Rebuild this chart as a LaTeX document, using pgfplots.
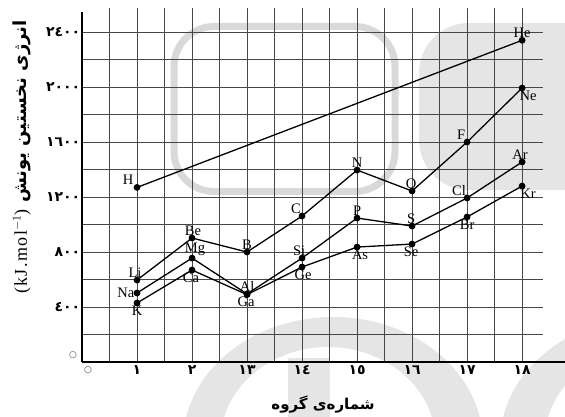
\documentclass[border=0pt]{standalone}
\usepackage{fontspec}
\usepackage{pgfplots}
\usepackage{pgfplotstable}
\pgfplotsset{compat=1.18}
\setmainfont{Liberation Serif}
\newfontfamily\arabicfont[Script=Arabic]{DejaVu Sans}
\newfontfamily\symfont{DejaVu Sans}
\TeXXeTstate=1

\pgfplotstableread{
x y
1 1270
8 2340
}\rowA
\pgfplotstableread{
x y
1 596
2 902
3 800
4 1062
5 1396
6 1244
7 1600
8 1993
}\rowB
\pgfplotstableread{
x y
1 502
2 756
3 495
4 756
5 1047
6 989
7 1193
8 1455
}\rowC
\pgfplotstableread{
x y
1 429
2 669
3 490
4 691
5 836
6 858
7 1055
8 1280
}\rowD

\newcommand\lbl[5]{\node[anchor=#3, xshift=#4pt, inner sep=2.5pt, font=\fontsize{14.5}{14.5}\selectfont] at (axis cs:#1,#2) {#5};}
\pgfplotsset{elem/.style={black, line width=1.3pt, mark=*, mark size=2.7pt, mark options={fill=black}}}

\begin{document}
\begin{tikzpicture}
\useasboundingbox (0,0) rectangle (565pt,416pt);
% watermark
\begin{scope}[x=1pt,y=-1pt,yshift=416pt]
\clip (0,0) rectangle (565,416);
\fill[black!10, rounded corners=50pt] (419,23) rectangle (660,190);
\fill[black!10, even odd rule] (333,443) ellipse [x radius=150pt, y radius=126pt] (328,443) ellipse [x radius=108pt, y radius=96pt];
\fill[black!10] (288,358) rectangle (330,430);
\fill[black!10, even odd rule] (650,443) ellipse [x radius=150pt, y radius=126pt] (650,443) ellipse [x radius=106pt, y radius=96pt];
\draw[black!15, line width=7pt, rounded corners=40pt] (174,26.5) rectangle (395,191.5);
\end{scope}

\begin{axis}[
  at={(82pt,54pt)}, anchor=south west,
  scale only axis, width=461pt, height=354pt,
  xmin=0, xmax=8.38, ymin=0, ymax=2575,
  axis lines=left,
  axis line style={-, line width=1.5pt, black},
  x axis line style={shorten >=-22pt},
  y axis line style={shorten >=4pt},
  xtick={1,...,8},
  xticklabels={١,٢,١٣,١٤,١٥,١٦,١٧,١٨},
  ytick={400,800,...,2400},
  yticklabels={٤٠٠,٨٠٠,١٢٠٠,١٦٠٠,٢٠٠٠,٢٤٠٠},
  minor xtick={0.5,1.5,...,8},
  minor ytick={200,600,...,2200},
  grid=both,
  major grid style={black!72, line width=0.6pt},
  minor grid style={black!72, line width=0.6pt},
  major tick length=0pt, minor tick length=0pt,
  tick style={draw=none},
  xticklabel style={font=\arabicfont\bfseries\fontsize{14}{14}\selectfont, inner sep=3pt},
  yticklabel style={font=\arabicfont\bfseries\fontsize{14}{14}\selectfont, inner sep=1.5pt},
  clip=false,
]
\addplot[elem] table[x=x, y=y] {\rowA};
\addplot[elem] table[x=x, y=y] {\rowB};
\addplot[elem] table[x=x, y=y] {\rowC};
\addplot[elem] table[x=x, y=y] {\rowD};
\lbl{1}{1270}{south}{-9}{H}
\lbl{8}{2340}{south}{0}{He}
\lbl{1}{596}{south}{-2}{Li}
\lbl{2}{902}{south}{1}{Be}
\lbl{3}{800}{south}{0}{B}
\lbl{4}{1062}{south}{-6}{C}
\lbl{5}{1396}{south}{0}{N}
\lbl{6}{1244}{south}{-1}{O}
\lbl{7}{1600}{south}{-6}{F}
\lbl{8}{1993}{north}{6}{Ne}
\lbl{1}{502}{east}{0}{Na}
\lbl{2}{756}{south}{3}{Mg}
\lbl{3}{495}{south}{0}{Al}
\lbl{4}{756}{south}{-3}{Si}
\lbl{5}{1047}{south}{0}{P}
\lbl{6}{989}{south}{-1}{S}
\lbl{7}{1193}{south}{-8}{Cl}
\lbl{8}{1455}{south}{-2}{Ar}
\lbl{1}{429}{north}{0}{K}
\lbl{2}{669}{north}{-1}{Ca}
\lbl{3}{490}{north}{-1}{Ga}
\lbl{4}{691}{north}{1}{Ge}
\lbl{5}{836}{north}{3}{As}
\lbl{6}{858}{north}{-1}{Se}
\lbl{7}{1055}{north}{0}{Br}
\lbl{8}{1280}{north}{6}{Kr}
\end{axis}

\node[font=\symfont\fontsize{9}{9}\selectfont, text=black!70] at (73pt,61pt) {○};
\node[font=\symfont\fontsize{9}{9}\selectfont, text=black!70] at (88pt,46pt) {○};
\node[font=\arabicfont\bfseries\fontsize{15}{15}\selectfont] at (323pt,11pt) {\beginR شماره‌ی گروه\endR};
\node[rotate=90, font=\arabicfont\bfseries\fontsize{18}{18}\selectfont] at (22pt,259pt)
  {\beginR انرژی نخستین یونش \beginL{\rmfamily\mdseries\fontsize{18}{18}\selectfont\addfontfeatures{LetterSpace=8}(kJ.mol$^{-1}$)}\endL\endR};
\end{tikzpicture}
\end{document}
